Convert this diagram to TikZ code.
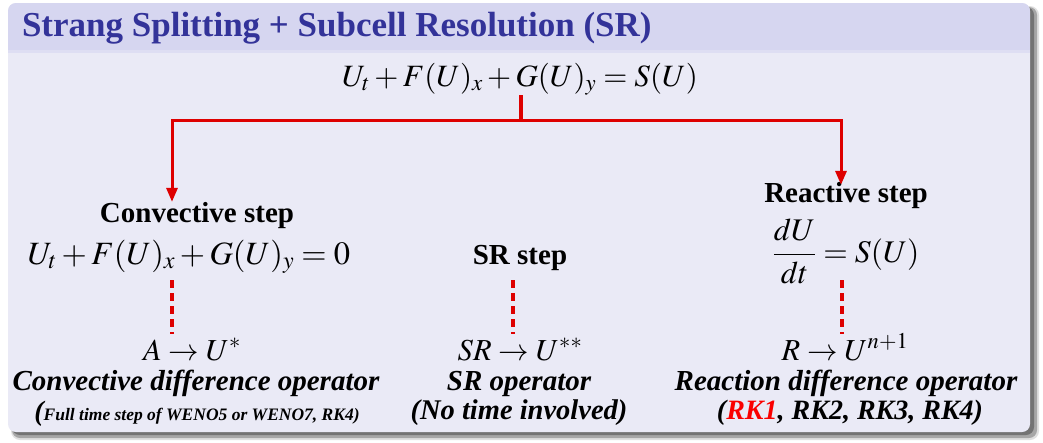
\documentclass[tikz,border=0pt]{standalone}
\usepackage{mathptmx}
\usepackage{fontspec}
\setmainfont{Liberation Serif}
\usetikzlibrary{arrows.meta}
\definecolor{titlebg}{RGB}{214,214,240}
\definecolor{bodybg}{RGB}{234,234,246}
\definecolor{titlefg}{RGB}{51,51,153}
\definecolor{linered}{RGB}{222,0,0}
\definecolor{rkred}{RGB}{250,0,0}
\tikzset{
  txt/.style={anchor=base, inner sep=0pt, outer sep=0pt},
  headtxt/.style={txt, font=\fontsize{29}{34}\selectfont\bfseries},
  mathtxt/.style={txt, font=\fontsize{31}{36}\selectfont},
  botmath/.style={txt, font=\fontsize{30.5}{35}\selectfont},
  optxt/.style={txt, font=\fontsize{29}{33}\selectfont\bfseries\itshape},
  notetxt/.style={txt, font=\fontsize{28.5}{32}\selectfont\bfseries\itshape},
  tree/.style={draw=linered, line width=3pt},
  treearrow/.style={tree, -{Triangle[length=14pt,width=11pt]}},
  dsh/.style={draw=linered, line width=3.5pt, dash pattern=on 8pt off 5pt}
}
\begin{document}
\begin{tikzpicture}[x=1pt,y=-1pt]
\useasboundingbox (0,0) rectangle (1043,442);
\fill[white] (0,0) rectangle (1043,442);
% shadow
\fill[black!12, rounded corners=9pt] (11,6) rectangle (1039,440);
\fill[black!35, rounded corners=8pt] (12,7) rectangle (1037,438);
\fill[black!55, rounded corners=8pt] (12,7) rectangle (1034,435);
% block body
\fill[bodybg, rounded corners=8pt] (8,3) rectangle (1030,432);
\begin{scope}
  \clip[rounded corners=8pt] (8,3) rectangle (1030,432);
  \fill[titlebg] (8,3) rectangle (1030,50);
  \fill[titlebg!60!bodybg] (8,50) rectangle (1030,53);
\end{scope}
% title
\node (title) [txt, anchor=base west, text=titlefg, font=\fontsize{35}{40}\selectfont\bfseries] at (22,36) {Strang Splitting + Subcell Resolution (SR)};
% main equation
\node (eq) [mathtxt] at (520,86) {$U_t+F(U)_x+G(U)_y=S(U)$};
% convective column
\node (conv) [headtxt] at (197,222) {Convective step};
\node (conveq) [txt, font=\fontsize{32.5}{38}\selectfont] at (189,264) {$U_t+F(U)_x+G(U)_y=0$};
\node (convop) [botmath] at (192,360) {$A\rightarrow U^{*}$};
\node (convname) [optxt] at (196,390) {Convective difference operator};
\node (convnote) [txt, font=\bfseries\itshape] at (197,420) {{\fontsize{28}{30}\selectfont(}{\fontsize{17.5}{20}\selectfont Full time step of WENO5 or WENO7, RK4)}};
% SR column
\node (srstep) [headtxt] at (520,264) {SR step};
\node (srop) [botmath] at (520,360) {$SR\rightarrow U^{**}$};
\node (srname) [optxt] at (519,390) {SR operator};
\node (srnote) [notetxt] at (519,419) {(No time involved)};
% reactive column
\node (reac) [headtxt] at (846,202) {Reactive step};
\node (reaceq) [txt, font=\fontsize{31.5}{36}\selectfont] at (846,262) {$\displaystyle\frac{dU}{dt}=S(U)$};
\node (reacop) [botmath] at (845,360) {$R\rightarrow U^{n+1}$};
\node (reacname) [optxt] at (846,390) {Reaction difference operator};
\node (reacnote) [txt, font=\fontsize{28}{32}\selectfont\bfseries\itshape] at (850,419) {(\textcolor{rkred}{RK1}, RK2, RK3, RK4)};
% tree connectors
\coordinate (split) at (521,120);
\coordinate (cl) at (172,120);
\coordinate (cr) at (841,120);
\draw[draw=linered, line width=4pt] (eq.south -| split) -- (split);
\draw[treearrow] (split) -- (cl) -- (conv.north -| cl);
\draw[treearrow] (split) -- (cr) -- ([yshift=-3pt]reac.north -| cr);
% dashed connectors
\coordinate (d1t) at (172,280);
\coordinate (d1b) at (172,334);
\coordinate (d2t) at (513,280);
\coordinate (d2b) at (513,334);
\coordinate (d3t) at (842,280);
\coordinate (d3b) at (842,334);
\draw[dsh] (d1t) -- (d1b);
\draw[dsh] (d2t) -- (d2b);
\draw[dsh] (d3t) -- (d3b);
\end{tikzpicture}
\end{document}
